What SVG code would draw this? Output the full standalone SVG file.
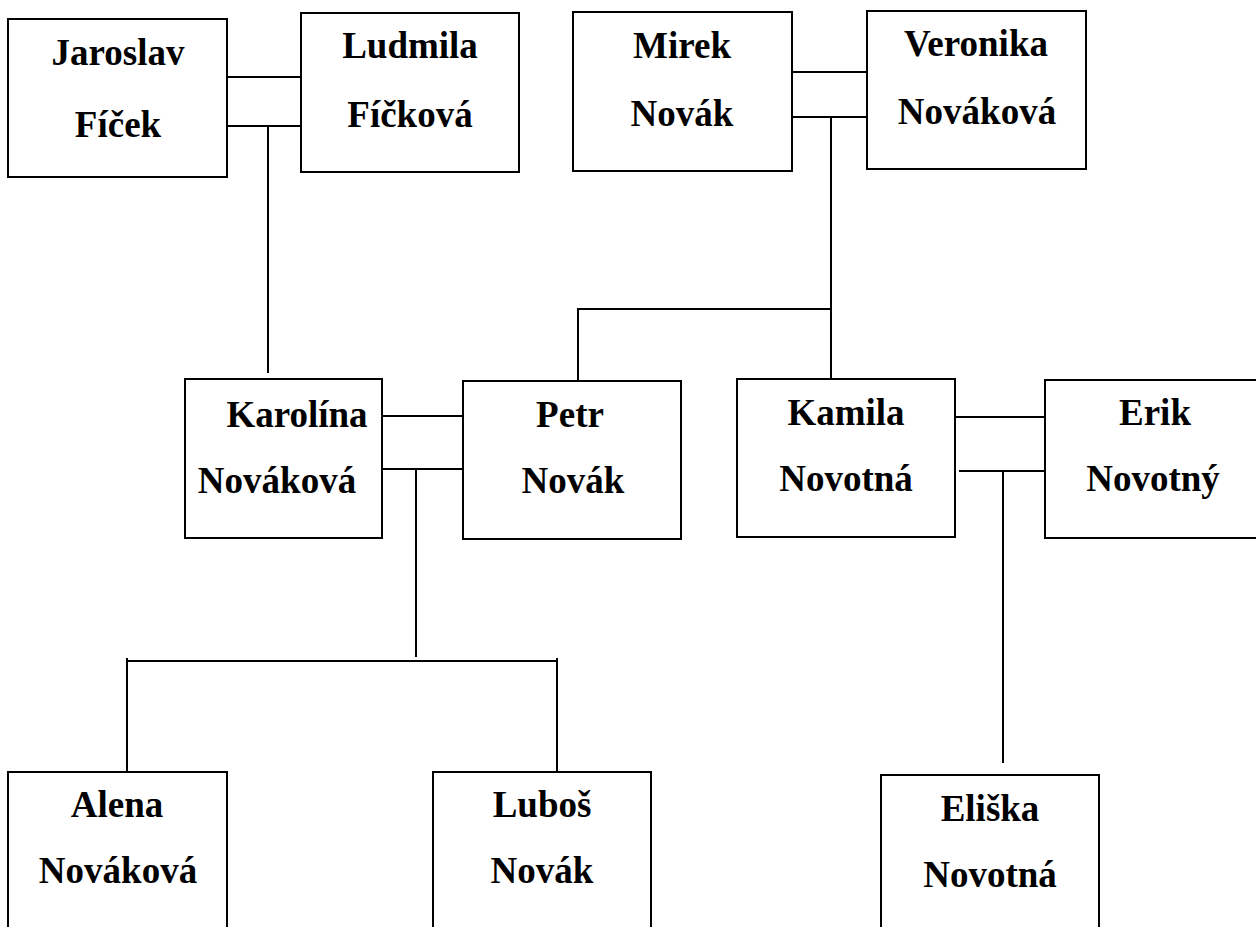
<svg xmlns="http://www.w3.org/2000/svg" width="1256" height="927" viewBox="0 0 1256 927">
<style>
rect.box{fill:#fff;stroke:#000;stroke-width:2}
line{stroke:#000;stroke-width:2}
text{font-family:"Liberation Serif","Times New Roman",serif;font-weight:bold;font-size:37px;fill:#000;text-anchor:middle}
</style>
<rect width="1256" height="927" fill="#fff"/>
<g id="connectors">
<line x1="227" y1="77" x2="301" y2="77"/>
<line x1="227" y1="126" x2="301" y2="126"/>
<line x1="268" y1="126" x2="268" y2="373"/>
<line x1="792" y1="72" x2="867" y2="72"/>
<line x1="792" y1="117" x2="867" y2="117"/>
<line x1="831" y1="117" x2="831" y2="379"/>
<line x1="577" y1="309" x2="831" y2="309"/>
<line x1="578" y1="309" x2="578" y2="381"/>
<line x1="382" y1="416" x2="463" y2="416"/>
<line x1="382" y1="469" x2="463" y2="469"/>
<line x1="416" y1="469" x2="416" y2="657"/>
<line x1="126" y1="661" x2="558" y2="661"/>
<line x1="127" y1="658" x2="127" y2="772"/>
<line x1="557" y1="658" x2="557" y2="772"/>
<line x1="955" y1="417" x2="1045" y2="417"/>
<line x1="959" y1="471" x2="1047" y2="471"/>
<line x1="1003" y1="471" x2="1003" y2="763"/>
</g>
<g id="jaroslav"><rect class="box" x="8" y="19" width="219" height="158"/><text x="118" y="65">Jaroslav</text><text x="118" y="137">Fíček</text></g>
<g id="ludmila"><rect class="box" x="301" y="13" width="218" height="159"/><text x="410" y="58">Ludmila</text><text x="410" y="127">Fíčková</text></g>
<g id="mirek"><rect class="box" x="573" y="12" width="219" height="159"/><text x="682" y="58">Mirek</text><text x="682" y="126">Novák</text></g>
<g id="veronika"><rect class="box" x="867" y="11" width="219" height="158"/><text x="976" y="56">Veronika</text><text x="977" y="124">Nováková</text></g>
<g id="karolina"><rect class="box" x="185" y="379" width="197" height="159"/><text x="297" y="427">Karolína</text><text x="277" y="493">Nováková</text></g>
<g id="petr"><rect class="box" x="463" y="381" width="218" height="158"/><text x="570" y="427">Petr</text><text x="573" y="493">Novák</text></g>
<g id="kamila"><rect class="box" x="737" y="379" width="218" height="158"/><text x="846" y="425">Kamila</text><text x="846" y="491">Novotná</text></g>
<g id="erik"><rect class="box" x="1045" y="380" width="218" height="158"/><text x="1155" y="425">Erik</text><text x="1153" y="491">Novotný</text></g>
<g id="alena"><rect class="box" x="8" y="772" width="219" height="170"/><text x="117" y="817">Alena</text><text x="118" y="883">Nováková</text></g>
<g id="lubos"><rect class="box" x="433" y="772" width="218" height="170"/><text x="542" y="817">Luboš</text><text x="542" y="883">Novák</text></g>
<g id="eliska"><rect class="box" x="881" y="775" width="218" height="167"/><text x="990" y="821">Eliška</text><text x="990" y="887">Novotná</text></g>
</svg>
